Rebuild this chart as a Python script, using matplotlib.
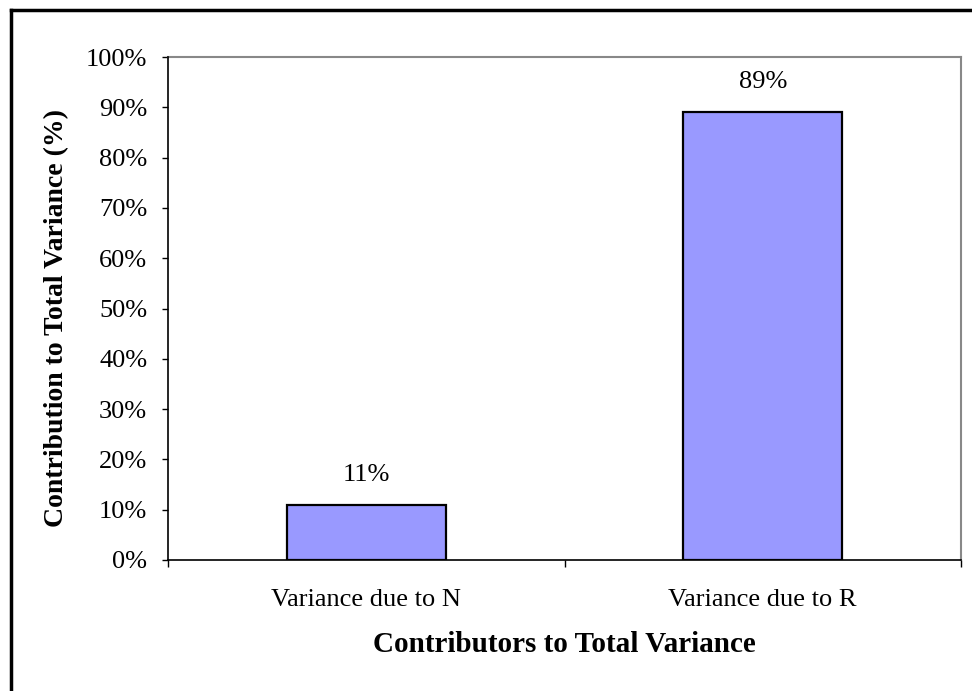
import matplotlib
matplotlib.use("Agg")
import matplotlib.pyplot as plt
from matplotlib.lines import Line2D
from matplotlib.ticker import FixedLocator

# variance contributions, in percent
categories = ["Variance due to N", "Variance due to R"]
contributions = [11, 89]
y_ticks = list(range(0, 101, 10))

plt.rcParams['font.family'] = ['Liberation Serif', 'DejaVu Serif']

W, H = 972, 691
fig = plt.figure(figsize=(W / 100, H / 100), dpi=100)
ax = fig.add_axes([168 / W, 1 - 560 / H, (961 - 168) / W, (560 - 57) / H])

x = range(len(categories))
bars = ax.bar(x, contributions, width=0.4, color='#9999FF', edgecolor='black', linewidth=1.6, zorder=3)
for rect, val in zip(bars, contributions):
    ax.annotate("%d%%" % val, (rect.get_x() + rect.get_width() / 2, rect.get_height()),
                xytext=(0, 21.5), textcoords='offset points', ha='center', va='center', fontsize=19)

ax.set_xlim(-0.5, len(categories) - 0.5)
ax.set_ylim(0, 100)
ax.set_yticks(y_ticks)
ax.set_yticklabels(["%d%%" % t for t in y_ticks], fontsize=19)
ax.set_xticks(list(x))
ax.set_xticklabels(categories, fontsize=19)
ax.tick_params(axis='x', length=0, pad=21)
ax.tick_params(axis='y', direction='out', length=4.5, width=1, pad=10.5)
# category separators on the x axis
ax.xaxis.set_minor_locator(FixedLocator([-0.5, 0.5, 1.5]))
ax.tick_params(axis='x', which='minor', direction='out', length=5, width=1)

for side in ('top', 'right'):
    ax.spines[side].set_color('#888888')
    ax.spines[side].set_linewidth(1.5)
for side in ('left', 'bottom'):
    ax.spines[side].set_color('black')
    ax.spines[side].set_linewidth(1.2)
    ax.spines[side].set_zorder(4)

# axis titles
fig.text(57 / W, 1 - 318 / H, "Contribution to Total Variance (%)", rotation=90,
         ha='center', va='center', fontsize=20, fontweight='bold')
fig.text(564 / W, 1 - 644 / H, "Contributors to Total Variance",
         ha='center', va='center', fontsize=21, fontweight='bold')

# chart frame
fig.add_artist(Line2D([10.5 / W, 10.5 / W], [0, 1 - 9.5 / H], color='black', linewidth=2.5,
                      transform=fig.transFigure, solid_capstyle='projecting'))
fig.add_artist(Line2D([10.5 / W, 1], [1 - 9.5 / H, 1 - 9.5 / H], color='black', linewidth=2.5,
                      transform=fig.transFigure, solid_capstyle='projecting'))

fig.savefig("out.png", dpi=100)
